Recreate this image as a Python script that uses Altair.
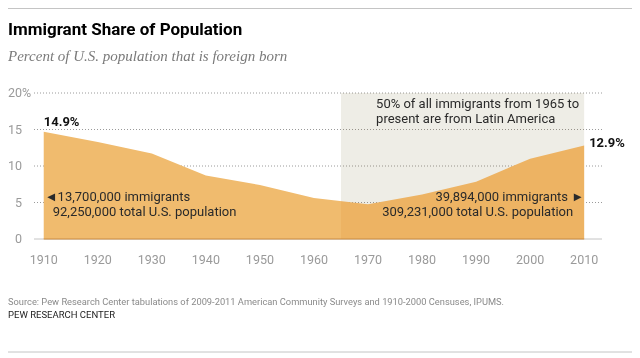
import altair as alt
import pandas as pd

# ---- data ----
years = [1910, 1920, 1930, 1940, 1950, 1960, 1970, 1980, 1990, 2000, 2010]
share = [14.7, 13.3, 11.7, 8.7, 7.4, 5.6, 4.75, 6.1, 7.85, 11.0, 12.8]
y_ticks = [0, 5, 10, 15, 20]
grid_values = [5, 10, 15, 20]
band_start, band_end = 1965, 2010
first_label = "14.9%"
last_label = "12.9%"
left_note = ["\u25c413,700,000 immigrants", "92,250,000 total U.S. population"]
right_note = ["39,894,000 immigrants \u25ba", "309,231,000 total U.S. population"]
band_note = ["50% of all immigrants from 1965 to", "present are from Latin America"]
title = "Immigrant Share of Population"
subtitle = "Percent of U.S. population that is foreign born"
source = "Source: Pew Research Center tabulations of 2009-2011 American Community Surveys and 1910-2000 Censuses, IPUMS."
brand = "PEW RESEARCH CENTER"

# ---- layout ----
W, H = 568, 146
PAD_L, PAD_T, PAD_R, PAD_B = 26, 85, 30, 115
FULL_W = PAD_L + W + PAD_R
X_DOMAIN = [1908.2, 2013.3]
FONT = "Roboto"

df = pd.DataFrame({"year": years, "share": share})
xs = alt.Scale(domain=X_DOMAIN, nice=False, zero=False)
ys = alt.Scale(domain=[0, 20], nice=False)
X = alt.X("year:Q", scale=xs, axis=None)
Y = alt.Y("share:Q", scale=ys, axis=None)

band_df = pd.DataFrame({"x": [band_start], "x2": [band_end], "y": [0], "y2": [20]})

band_base = alt.Chart(band_df).mark_rect(color="#F1F8FF").encode(
    x=alt.X("x:Q", scale=xs, axis=None), x2="x2", y=alt.Y("y:Q", scale=ys, axis=None), y2="y2")

grid = alt.Chart(pd.DataFrame({"v": grid_values})).mark_rule(
    color="#9a9a9a", strokeDash=[1, 2], strokeWidth=1).encode(
    y=alt.Y("v:Q", scale=ys, axis=None), x=alt.value(0), x2=alt.value(W))

zero_line = alt.Chart(pd.DataFrame({"v": [0]})).mark_rule(color="#c4c4c4").encode(
    y=alt.Y("v:Q", scale=ys, axis=None), x=alt.value(0), x2=alt.value(W))

area = alt.Chart(df).mark_area(color="#F0BB6E", opacity=1, interpolate="linear").encode(x=X, y=Y)

band_mult = alt.Chart(band_df).mark_rect(color="#FCF4E6", blend="multiply").encode(
    x=alt.X("x:Q", scale=xs, axis=None), x2="x2", y=alt.Y("y:Q", scale=ys, axis=None), y2="y2")

base_df = pd.DataFrame({"x": [years[0]], "x2": [years[-1]], "y": [0]})
base_line = alt.Chart(base_df).mark_rule(color="#C98B42", strokeWidth=1.2).encode(
    x=alt.X("x:Q", scale=xs, axis=None), x2="x2", y=alt.Y("y:Q", scale=ys, axis=None))

# x tick labels
xlab = alt.Chart(pd.DataFrame({"v": years, "t": [str(v) for v in years]})).mark_text(
    align="center", baseline="middle", font=FONT, fontSize=12.5, color="#9a9a9a").encode(
    x=alt.X("v:Q", scale=xs, axis=None), y=alt.value(H + 21), text="t:N")

# y tick labels
ylab = alt.Chart(pd.DataFrame({"v": y_ticks, "t": [str(v) for v in y_ticks]})).mark_text(
    align="right", baseline="middle", font=FONT, fontSize=12.5, color="#9a9a9a").encode(
    y=alt.Y("v:Q", scale=ys, axis=None), x=alt.value(-12), text="t:N")
pct = alt.Chart(pd.DataFrame({"v": [y_ticks[-1]], "t": ["%"]})).mark_text(
    align="left", baseline="middle", font=FONT, fontSize=12.5, color="#9a9a9a").encode(
    y=alt.Y("v:Q", scale=ys, axis=None), x=alt.value(-12), text="t:N")

# end labels
end_first = alt.Chart(pd.DataFrame({"x": [years[0]], "y": [share[0]], "t": [first_label]})).mark_text(
    align="left", baseline="middle", font=FONT, fontSize=13, fontWeight="bold", color="#111", dy=-10).encode(
    x=alt.X("x:Q", scale=xs, axis=None), y=alt.Y("y:Q", scale=ys, axis=None), text="t:N")
end_last = alt.Chart(pd.DataFrame({"x": [years[-1]], "y": [share[-1]], "t": [last_label]})).mark_text(
    align="left", baseline="middle", font=FONT, fontSize=13, fontWeight="bold", color="#111", dx=5, dy=-3).encode(
    x=alt.X("x:Q", scale=xs, axis=None), y=alt.Y("y:Q", scale=ys, axis=None), text="t:N")

def note(x, y, t, align, dx):
    return alt.Chart(pd.DataFrame({"x": [x], "y": [y], "t": [t]})).mark_text(
        align=align, baseline="middle", font=FONT, fontSize=13, color="#2a2a2a", dx=dx).encode(
        x=alt.X("x:Q", scale=xs, axis=None), y=alt.Y("y:Q", scale=ys, axis=None), text="t:N")

notes = [
    note(years[0], 5.8, left_note[0], "left", 1),
    note(years[0], 3.75, left_note[1], "left", 9),
    note(years[-1], 5.8, right_note[0], "right", 0),
    note(years[-1], 3.75, right_note[1], "right", -11),
    note(1971.5, 18.45, band_note[0], "left", 0),
    note(1971.5, 16.5, band_note[1], "left", 0),
]

def free_text(t, x, y, size, color, weight="normal", style="normal", font=FONT):
    return alt.Chart(pd.DataFrame({"t": [t]})).mark_text(
        align="left", baseline="alphabetic", font=font, fontSize=size, color=color,
        fontWeight=weight, fontStyle=style).encode(x=alt.value(x), y=alt.value(y), text="t:N")

title_t = free_text(title, -PAD_L, 27 - PAD_T, 17, "#000", weight="bold")
sub_t = free_text(subtitle, -PAD_L, 52.5 - PAD_T, 15, "#7a7a7a", style="italic", font="Liberation Serif")
src_t = free_text(source, -PAD_L, 297 - PAD_T, 9.3, "#8a8a8a")
brand_t = free_text(brand, -PAD_L, 309.5 - PAD_T, 9.5, "#222")

top_rule = alt.Chart(pd.DataFrame({"a": [0]})).mark_rule(color="#c4c4c4").encode(
    x=alt.value(-PAD_L), x2=alt.value(FULL_W - PAD_L), y=alt.value(0.5 - PAD_T))
bot_rule = alt.Chart(pd.DataFrame({"a": [0]})).mark_rule(color="#c4c4c4").encode(
    x=alt.value(-PAD_L), x2=alt.value(FULL_W - PAD_L), y=alt.value(344 - PAD_T))

chart = alt.layer(
    band_base, grid, zero_line, area, band_mult, base_line, xlab, ylab, pct,
    end_first, end_last, *notes, title_t, sub_t, src_t, brand_t, top_rule, bot_rule
).properties(
    width=W, height=H,
    autosize=alt.AutoSizeParams(type="none"),
    padding={"left": PAD_L, "top": PAD_T, "right": PAD_R, "bottom": PAD_B},
).configure_view(stroke=None)

chart.save("out.html", embed_options={"renderer": "svg", "actions": False})
